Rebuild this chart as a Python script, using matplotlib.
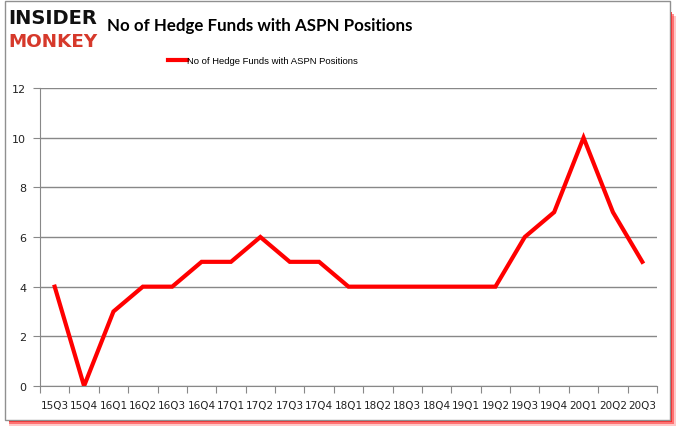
import matplotlib
matplotlib.use("Agg")
import matplotlib.pyplot as plt
from matplotlib.patches import Rectangle

quarters = ["15Q3", "15Q4", "16Q1", "16Q2", "16Q3", "16Q4", "17Q1", "17Q2", "17Q3", "17Q4",
            "18Q1", "18Q2", "18Q3", "18Q4", "19Q1", "19Q2", "19Q3", "19Q4", "20Q1", "20Q2", "20Q3"]
funds = [4, 0, 3, 4, 4, 5, 5, 6, 5, 5, 4, 4, 4, 4, 4, 4, 6, 7, 10, 7, 5]
series_name = "No of Hedge Funds with ASPN Positions"
title = "No of Hedge Funds with ASPN Positions"

W, H = 678, 431
fig = plt.figure(figsize=(W / 100, H / 100), dpi=100)
fig.patch.set_facecolor("white")

# frame with red shadow
for off, a in [(6, 0.25), (4, 0.5), (2, 0.9)]:
    fig.patches.append(Rectangle((9 / W, (H - 421 - off) / H), (665 + off - 4) / W, 410 / H,
                                 transform=fig.transFigure, facecolor="#ff2020", edgecolor="none",
                                 alpha=a, zorder=0))
fig.patches.append(Rectangle((5 / W, (H - 421) / H), 665 / W, 419 / H, transform=fig.transFigure,
                             facecolor="white", edgecolor="#909090", linewidth=1, zorder=1))

ax = fig.add_axes([40 / W, (H - 387) / H, 617 / W, 298 / H])
ax.set_zorder(2)
ax.patch.set_alpha(0)
x = list(range(len(quarters)))
ax.plot(x, funds, color="#ff0000", linewidth=3, solid_joinstyle="miter", label=series_name)
ax.set_xlim(-0.5, len(quarters) - 0.5)
ax.set_ylim(0, 12)
ax.set_yticks(range(0, 13, 2))
ax.set_xticks([i - 0.5 for i in range(len(quarters) + 1)], minor=False)
ax.set_xticklabels([])
ax.set_xticks(x, minor=True)
ax.set_xticklabels(quarters, minor=True)
ax.tick_params(axis="x", which="major", length=5, color="#888888", direction="out")
ax.tick_params(axis="x", which="minor", length=0, pad=10, labelsize=7.5, labelcolor="#222222")
ax.tick_params(axis="y", length=5, color="#888888", labelsize=8, labelcolor="#222222", pad=5)
ax.grid(axis="y", color="#888888", linewidth=1)
for s in ["top", "right"]:
    ax.spines[s].set_visible(False)
for s in ["left", "bottom"]:
    ax.spines[s].set_color("#888888")
for lab in ax.get_xticklabels(minor=True) + ax.get_yticklabels():
    lab.set_family("DejaVu Sans")

fig.text(260 / W, 1 - 26 / H, title, ha="center", va="center", fontsize=12.2,
         fontweight="bold", family="Lato", zorder=3)
fig.legend(loc="center", bbox_to_anchor=(263 / W, 1 - 62 / H), frameon=False,
           handlelength=2.0, handletextpad=0.1,
           prop={"family": "Liberation Sans", "size": 6.8})

fig.text(8 / W, 1 - 19 / H, "INSIDER", ha="left", va="center", fontsize=14,
         fontweight="heavy", family="DejaVu Sans", color="#111111", zorder=3)
fig.text(8 / W, 1 - 42 / H, "MONKEY", ha="left", va="center", fontsize=13.2,
         fontweight="heavy", family="DejaVu Sans", color="#d6392b", zorder=3)

fig.savefig("out.png", dpi=100)
